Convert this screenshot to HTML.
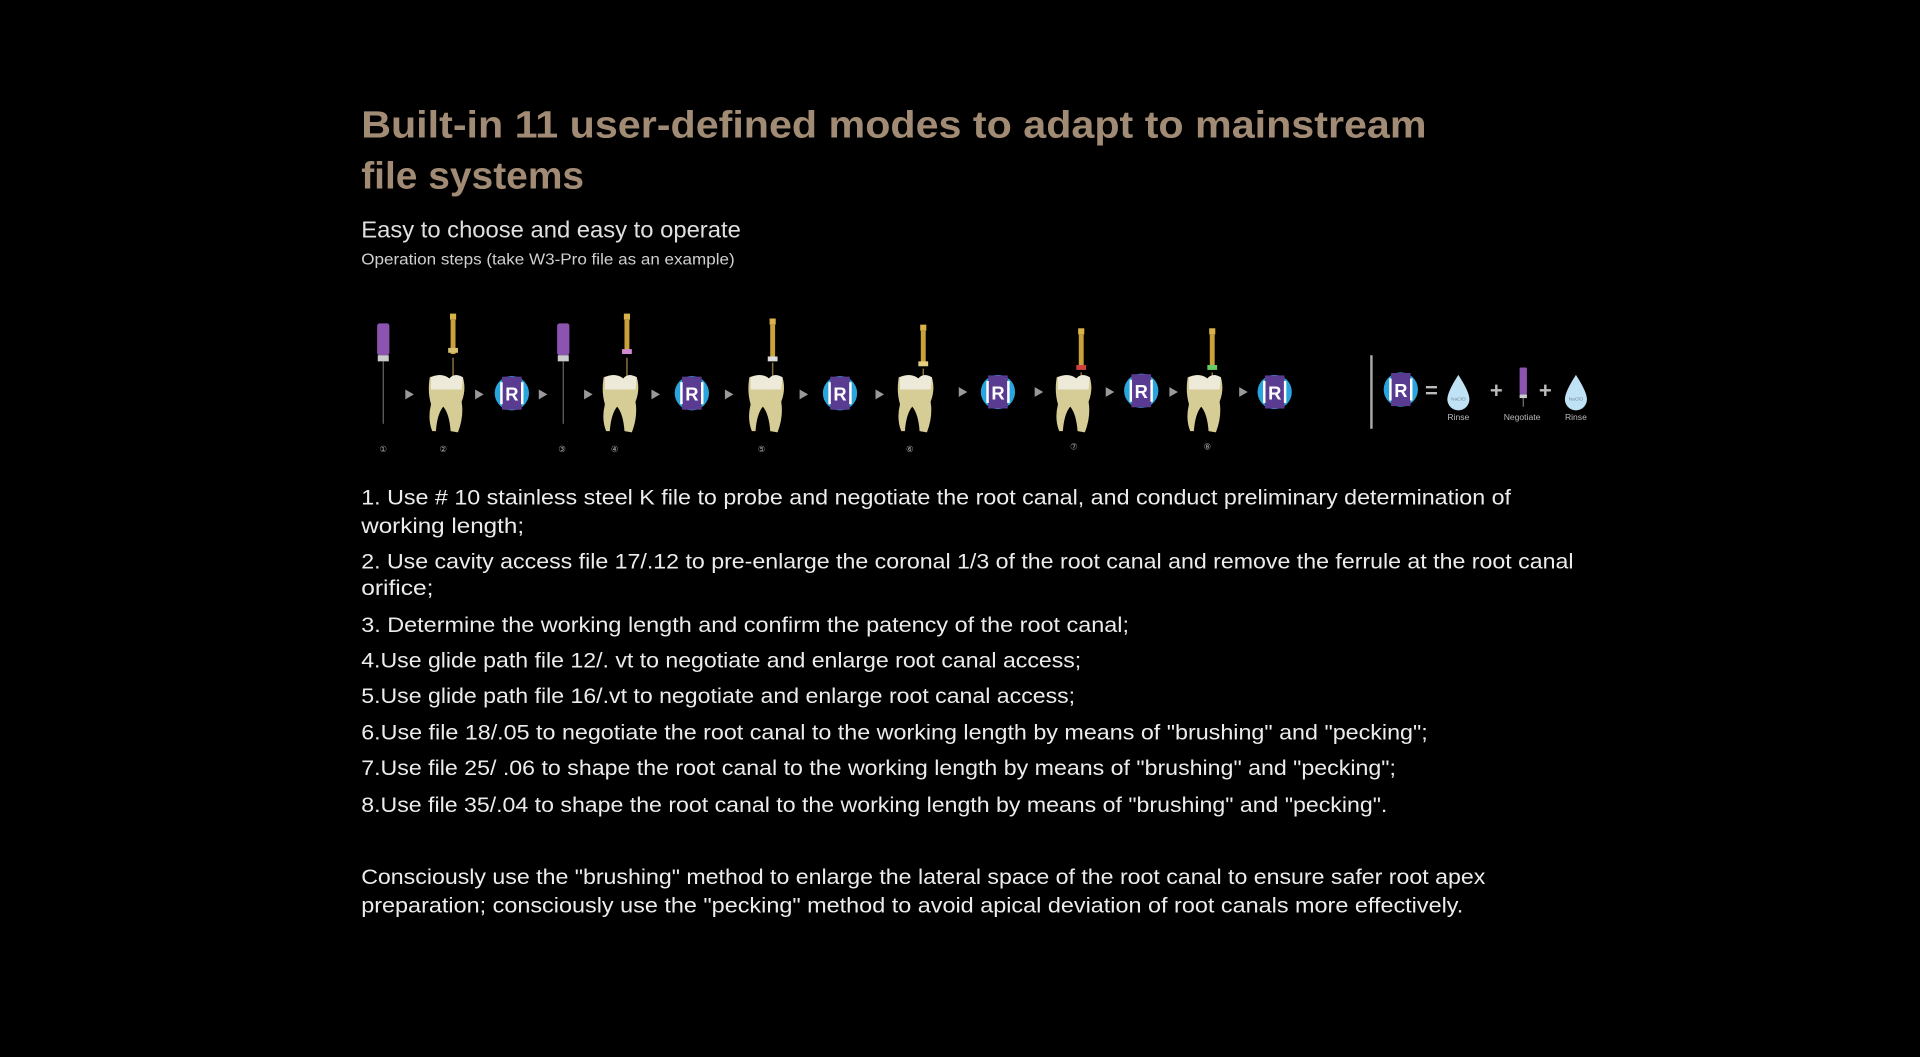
<!DOCTYPE html>
<html><head><meta charset="utf-8"><style>
html,body{margin:0;padding:0;background:#000;width:1920px;height:1057px;overflow:hidden}
svg{display:block}
</style></head><body>
<svg width="1920" height="1057" viewBox="0 0 1568 863" xmlns="http://www.w3.org/2000/svg" font-family="Liberation Sans, sans-serif">
<defs>
<g id="iri"><circle r="14" fill="#2aa4dc"/><rect x="-8" y="-13.5" width="16" height="27" fill="#5a3b92"/><rect x="-9.5" y="-9" width="2" height="18" fill="#fff"/><rect x="7.5" y="-9" width="2" height="18" fill="#fff"/><text y="6" text-anchor="middle" font-size="15" font-weight="bold" fill="#fff">R</text></g>
<g id="tooth"><path d="M-14,-14 Q-16,-2 -13,8 Q-16,20 -12,30 L-9,30 Q-8,16 -3,10 Q2,16 3,30 L9,31 Q14,18 12,6 Q16,-4 13,-14 Q6,-18 2,-13 Q-4,-18 -14,-14 Z" fill="#d6cc96"/><path d="M-13,-14 Q-4,-18 2,-13 Q6,-18 13,-14 L12,-4 L-13,-4 Z" fill="#eeeada"/></g>
<g id="kfile"><rect x="-5" y="-58" width="10" height="26" rx="2" fill="#8a54b0"/><rect x="-4.5" y="-32" width="9" height="5" fill="#ccc"/><line x1="0" y1="-27" x2="0" y2="24" stroke="#666" stroke-width="1"/></g>
<g id="rot"><rect x="-2.5" y="-66" width="5" height="5" fill="#d9b24a"/><rect x="-2" y="-61" width="4" height="28" fill="#c9a23c"/><line x1="0" y1="-30" x2="0" y2="8" stroke="#8a7440" stroke-width="1.2"/></g>
<path id="arr" d="M-3,-4 L4,0 L-3,4 Z" fill="#999"/>
<path id="drop" d="M0,-14 Q9,0 9,6 A9,9 0 0 1 -9,6 Q-9,0 0,-14 Z" fill="#bfe2f5"/>
</defs>

<text x="295" y="112" font-size="31" font-weight="bold" fill="#a28b74" textLength="870" lengthAdjust="spacingAndGlyphs">Built-in 11 user-defined modes to adapt to mainstream</text>
<text x="295" y="154" font-size="31" font-weight="bold" fill="#a28b74" textLength="182" lengthAdjust="spacingAndGlyphs">file systems</text>
<text x="295" y="194" font-size="19" fill="#e0e0e0" textLength="310" lengthAdjust="spacingAndGlyphs">Easy to choose and easy to operate</text>
<text x="295" y="216" font-size="13" fill="#d0d0d0" textLength="305" lengthAdjust="spacingAndGlyphs">Operation steps (take W3-Pro file as an example)</text>

<!-- icon row -->
<use href="#kfile" x="313" y="322"/>
<use href="#rot" x="370" y="322"/><rect x="366" y="284" width="8" height="4" fill="#d9c070"/>
<use href="#tooth" x="365" y="322"/>
<use href="#kfile" x="460" y="322"/>
<use href="#rot" x="512" y="322"/><rect x="508" y="285" width="8" height="4" fill="#d48ad0"/>
<use href="#tooth" x="507" y="322"/>
<use href="#rot" x="631" y="326"/><rect x="627" y="291" width="8" height="4" fill="#ddd"/>
<use href="#tooth" x="626" y="322"/>
<use href="#rot" x="754" y="331"/><rect x="750" y="295" width="8" height="4" fill="#e6d080"/>
<use href="#tooth" x="748" y="322"/>
<use href="#rot" x="883" y="334"/><rect x="879" y="298" width="8" height="4" fill="#d04040"/>
<use href="#tooth" x="877" y="322"/>
<use href="#rot" x="990" y="334"/><rect x="986" y="298" width="8" height="4" fill="#6c6"/>
<use href="#tooth" x="984" y="322"/>

<use href="#iri" x="418" y="321"/><use href="#iri" x="565" y="321"/><use href="#iri" x="686" y="321"/>
<use href="#iri" x="815" y="320"/><use href="#iri" x="932" y="319"/><use href="#iri" x="1041" y="320"/>

<use href="#arr" x="334" y="322"/><use href="#arr" x="391" y="322"/><use href="#arr" x="443" y="322"/>
<use href="#arr" x="480" y="322"/><use href="#arr" x="535" y="322"/><use href="#arr" x="595" y="322"/>
<use href="#arr" x="656" y="322"/><use href="#arr" x="718" y="322"/><use href="#arr" x="786" y="320"/>
<use href="#arr" x="848" y="320"/><use href="#arr" x="906" y="320"/><use href="#arr" x="958" y="320"/>
<use href="#arr" x="1015" y="320"/>

<g font-size="7" fill="#aaa" text-anchor="middle">
<text x="313" y="369">①</text><text x="362" y="369">②</text><text x="459" y="369">③</text><text x="502" y="369">④</text>
<text x="622" y="369">⑤</text><text x="743" y="369">⑥</text><text x="877" y="367">⑦</text><text x="986" y="367">⑧</text>
</g>

<line x1="1120" y1="290" x2="1120" y2="350" stroke="#aaa" stroke-width="2"/>
<use href="#iri" x="1144" y="318"/>
<text x="1169" y="325" font-size="18" font-weight="bold" fill="#bbb" text-anchor="middle">=</text>
<use href="#drop" x="1191" y="320"/><text x="1191" y="327" font-size="4" fill="#789" text-anchor="middle">NaClO</text>
<text x="1191" y="343" font-size="7" fill="#bbb" text-anchor="middle">Rinse</text>
<text x="1222" y="325" font-size="18" font-weight="bold" fill="#bbb" text-anchor="middle">+</text>
<rect x="1241" y="300" width="6" height="22" rx="1" fill="#8a54b0"/><rect x="1241" y="322" width="6" height="3" fill="#ccc"/><line x1="1244" y1="325" x2="1244" y2="332" stroke="#777"/>
<text x="1243" y="343" font-size="7" fill="#bbb" text-anchor="middle">Negotiate</text>
<text x="1262" y="325" font-size="18" font-weight="bold" fill="#bbb" text-anchor="middle">+</text>
<use href="#drop" x="1287" y="320"/><text x="1287" y="327" font-size="4" fill="#789" text-anchor="middle">NaClO</text>
<text x="1287" y="343" font-size="7" fill="#bbb" text-anchor="middle">Rinse</text>

<g font-size="17.5" fill="#ececec" lengthAdjust="spacingAndGlyphs">
<text x="295" y="412" textLength="939" lengthAdjust="spacingAndGlyphs">1. Use # 10 stainless steel K file to probe and negotiate the root canal, and conduct preliminary determination of</text>
<text x="295" y="435" textLength="133" lengthAdjust="spacingAndGlyphs">working length;</text>
<text x="295" y="464" textLength="990" lengthAdjust="spacingAndGlyphs">2. Use cavity access file 17/.12 to pre-enlarge the coronal 1/3 of the root canal and remove the ferrule at the root canal</text>
<text x="295" y="486" textLength="59" lengthAdjust="spacingAndGlyphs">orifice;</text>
<text x="295" y="516" textLength="627" lengthAdjust="spacingAndGlyphs">3. Determine the working length and confirm the patency of the root canal;</text>
<text x="295" y="545" textLength="588" lengthAdjust="spacingAndGlyphs">4.Use glide path file 12/. vt to negotiate and enlarge root canal access;</text>
<text x="295" y="574" textLength="583" lengthAdjust="spacingAndGlyphs">5.Use glide path file 16/.vt to negotiate and enlarge root canal access;</text>
<text x="295" y="604" textLength="871" lengthAdjust="spacingAndGlyphs">6.Use file 18/.05 to negotiate the root canal to the working length by means of "brushing" and "pecking";</text>
<text x="295" y="633" textLength="845" lengthAdjust="spacingAndGlyphs">7.Use file 25/ .06 to shape the root canal to the working length by means of "brushing" and "pecking";</text>
<text x="295" y="663" textLength="838" lengthAdjust="spacingAndGlyphs">8.Use file 35/.04 to shape the root canal to the working length by means of "brushing" and "pecking".</text>
<text x="295" y="722" textLength="918" lengthAdjust="spacingAndGlyphs">Consciously use the "brushing" method to enlarge the lateral space of the root canal to ensure safer root apex</text>
<text x="295" y="745" textLength="900" lengthAdjust="spacingAndGlyphs">preparation; consciously use the "pecking" method to avoid apical deviation of root canals more effectively.</text>
</g>
</svg>
</body></html>
